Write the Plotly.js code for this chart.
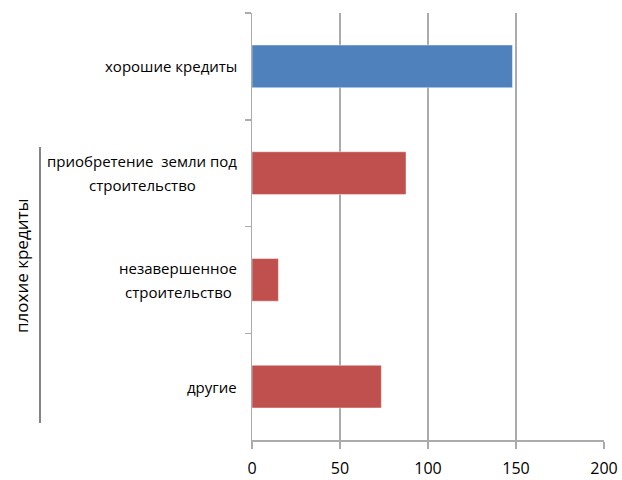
<!DOCTYPE html>
<html>
<head>
<meta charset="utf-8">
<script src="https://cdn.plot.ly/plotly-3.0.1.min.js"></script>
<style>html,body{margin:0;padding:0;background:#fff;}#chart{width:622px;height:480px;}</style>
</head>
<body>
<div id="chart"></div>
<script>
const categories = ['хорошие кредиты', 'приобретение  земли под<br>строительство', 'незавершенное<br>строительство', 'другие'];
const values = [148, 87.5, 15, 73.5];
const barColors = ['#4F81BD', '#C0504D', '#C0504D', '#C0504D'];
const groupLabel = 'плохие кредиты';
const xTicks = [0, 50, 100, 150, 200];

const W = 622, H = 480;
const L = 252, R = 18, T = 13, B = 40;
const pw = W - L - R, ph = H - T - B;
const px = x => (x - L) / pw;
const py = y => (H - B - y) / ph;

const FS = 15;
const FONT = 'Open Sans, sans-serif';
const ctx = document.createElement('canvas').getContext('2d');
ctx.font = FS + 'px "Open Sans"';
const lineSpacing = 24;
const rightEdge = 237;
const annotations = [];
categories.forEach(cat => {
  const lines = cat.split('<br>');
  const n = lines.length;
  const maxW = Math.max(...lines.map(l => ctx.measureText(l).width));
  const cx = rightEdge - maxW / 2;
  lines.forEach((ln, i) => {
    annotations.push({
      xref: 'paper', yref: 'y', x: px(cx), y: cat,
      xanchor: 'center', yanchor: 'middle', align: 'center',
      text: ln, showarrow: false,
      yshift: -(i - (n - 1) / 2) * lineSpacing,
      font: {family: FONT, size: FS, color: '#000'}
    });
  });
});
annotations.push({
  xref: 'paper', yref: 'paper', x: px(21), y: py(266),
  xanchor: 'center', yanchor: 'middle', textangle: -90,
  text: groupLabel, showarrow: false,
  font: {family: FONT, size: 17, color: '#000'}
});

const data = [{
  type: 'bar', orientation: 'h',
  y: categories, x: values,
  marker: {color: barColors, line: {color: 'rgba(255,255,255,0.45)', width: 1}},
  width: 0.4,
  hoverinfo: 'none'
}];

const layout = {
  width: W, height: H,
  margin: {l: L, r: R, t: T, b: B, pad: 0},
  paper_bgcolor: '#fff', plot_bgcolor: '#fff',
  showlegend: false,
  font: {family: FONT, color: '#000'},
  xaxis: {
    range: [0, 200], tickvals: xTicks, ticktext: xTicks.map(String),
    showgrid: true, gridcolor: '#ababab', gridwidth: 1.5,
    showline: true, linecolor: '#ababab', linewidth: 1.5,
    ticks: 'outside', ticklen: 7, tickcolor: '#ababab', tickwidth: 1.5,
    ticklabelstandoff: 6,
    zeroline: false, fixedrange: true,
    tickfont: {family: FONT, size: 16, color: '#000'}
  },
  yaxis: {
    type: 'category', autorange: 'reversed',
    showgrid: false, showline: true, linecolor: '#ababab', linewidth: 1.5,
    ticks: 'outside', tickson: 'boundaries', ticklen: 6, tickcolor: '#ababab', tickwidth: 1.5,
    showticklabels: false, zeroline: false, fixedrange: true
  },
  annotations: annotations,
  shapes: [{
    type: 'line', xref: 'paper', yref: 'paper',
    x0: px(40), x1: px(40), y0: py(147), y1: py(423),
    line: {color: '#333', width: 1.2}
  }]
};

Plotly.newPlot('chart', data, layout, {displayModeBar: false, staticPlot: true});
</script>
</body>
</html>
